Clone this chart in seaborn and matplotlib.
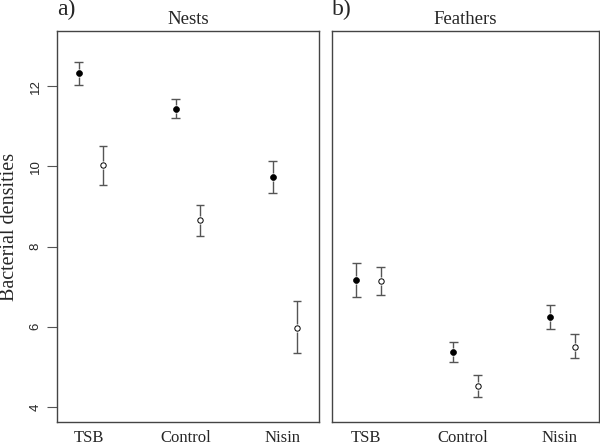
import numpy as np
import pandas as pd
import matplotlib
matplotlib.use("Agg")
import matplotlib.pyplot as plt
import seaborn as sns

sns.set_theme(style="white")
plt.rcParams['font.family'] = ['Liberation Serif', 'DejaVu Serif']

categories = ["TSB", "Control", "Nisin"]
panels = ["Nests", "Feathers"]
panel_tags = ["a)", "b)"]

# Nests: filled (first) and open (second) series
nests_filled_mean = [12.32, 11.44, 9.73]
nests_filled_low = [12.02, 11.20, 9.33]
nests_filled_high = [12.59, 11.68, 10.13]
nests_open_mean = [10.03, 8.67, 5.98]
nests_open_low = [9.54, 8.27, 5.35]
nests_open_high = [10.51, 9.04, 6.63]

# Feathers
feath_filled_mean = [7.16, 5.38, 6.24]
feath_filled_low = [6.75, 5.12, 5.94]
feath_filled_high = [7.59, 5.63, 6.54]
feath_open_mean = [7.13, 4.53, 5.50]
feath_open_low = [6.78, 4.25, 5.22]
feath_open_high = [7.48, 4.80, 5.81]

yticks = [4, 6, 8, 10, 12]

rows = []
for panel, fm, fl, fh, om, ol, oh in [
    ("Nests", nests_filled_mean, nests_filled_low, nests_filled_high,
     nests_open_mean, nests_open_low, nests_open_high),
    ("Feathers", feath_filled_mean, feath_filled_low, feath_filled_high,
     feath_open_mean, feath_open_low, feath_open_high)]:
    for i, c in enumerate(categories):
        rows.append(dict(panel=panel, cat=c, idx=i + 1, series="filled",
                         mean=fm[i], low=fl[i], high=fh[i]))
        rows.append(dict(panel=panel, cat=c, idx=i + 1, series="open",
                         mean=om[i], low=ol[i], high=oh[i]))
df = pd.DataFrame(rows)
offsets = {"filled": -0.10, "open": 0.15}
df["x"] = df["idx"] + df["series"].map(offsets)

fig = plt.figure(figsize=(6.0, 4.48), dpi=100)
ax1 = fig.add_axes([57 / 600, 26 / 448, 262 / 600, 391 / 448])
ax2 = fig.add_axes([332 / 600, 26 / 448, 267 / 600, 391 / 448], sharey=ax1)
axes = [ax1, ax2]
xlims = [(0.675, 3.376), (0.649, 3.402)]

frame_col = "#444444"
bar_col = "#555555"
cap = 0.045
gap = 0.1

for ax, panel, tag, xl in zip(axes, panels, panel_tags, xlims):
    d = df[df.panel == panel]
    # error bars with a small gap around the point
    ax.vlines(d["x"], d["low"], d["mean"] - gap, color=bar_col, lw=1.0, zorder=2)
    ax.vlines(d["x"], d["mean"] + gap, d["high"], color=bar_col, lw=1.0, zorder=2)
    ax.hlines(d["low"], d["x"] - cap, d["x"] + cap, color=bar_col, lw=1.0, zorder=2)
    ax.hlines(d["high"], d["x"] - cap, d["x"] + cap, color=bar_col, lw=1.0, zorder=2)
    df_f = d[d.series == "filled"]
    df_o = d[d.series == "open"]
    sns.scatterplot(data=df_f, x="x", y="mean", ax=ax, marker="o", s=18,
                    color="black", edgecolor="black", linewidth=0.5, zorder=4,
                    legend=False)
    sns.scatterplot(data=df_o, x="x", y="mean", ax=ax, marker="o", s=15,
                    facecolor="white", edgecolor="black", linewidth=0.7, zorder=4,
                    legend=False)
    ax.set_xlim(*xl)
    ax.set_ylim(3.625, 13.375)
    ax.set_xticks([1, 2, 3])
    ax.set_xticklabels(categories, fontsize=12)
    ax.tick_params(axis="x", length=0, pad=6)
    ax.set_xlabel("")
    ax.set_ylabel("")
    for s in ax.spines.values():
        s.set_color(frame_col)
        s.set_linewidth(1.0)
    ax.set_title(panel, fontsize=13.5, pad=5)
    ax.text(0.0, 1.028, tag, transform=ax.transAxes, fontsize=17,
            ha="left", va="bottom")

ax1.set_yticks(yticks)
ax1.set_yticklabels([str(v) for v in yticks], rotation=90, va="center",
                    fontsize=9.5, family="Liberation Sans")
ax1.tick_params(axis="y", length=7, width=0.8, color=bar_col, pad=4, left=True)
ax1.set_ylabel("Bacterial densities", fontsize=14.5, labelpad=8)
ax2.tick_params(axis="y", left=False, labelleft=False)

fig.savefig("out.png", dpi=100)
